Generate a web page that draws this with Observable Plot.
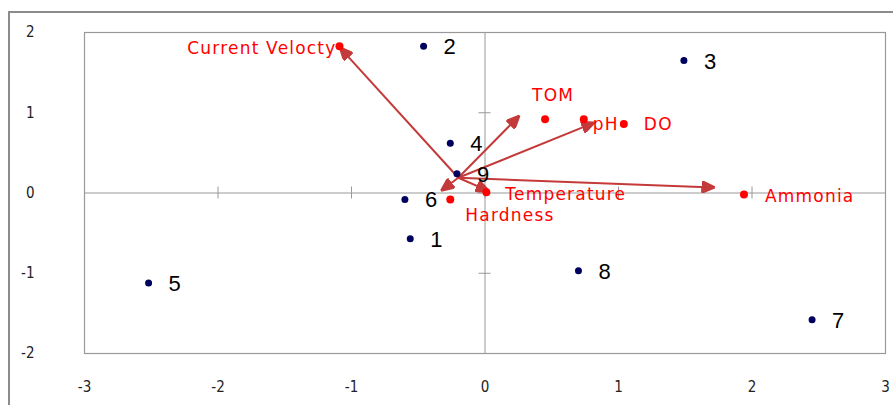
<!DOCTYPE html>
<html>
<head>
<meta charset="utf-8">
<script src="https://cdn.jsdelivr.net/npm/d3@7"></script>
<script src="https://cdn.jsdelivr.net/npm/@observablehq/plot@0.6"></script>
<style>
  html, body { margin: 0; padding: 0; background: #fff; }
  #wrap { position: relative; width: 893px; height: 405px; overflow: hidden; }
  #outer { position: absolute; left: 8px; top: 11px; width: 2000px; height: 2000px;
           border-left: 2px solid #8c8c8c; border-top: 2px solid #8c8c8c; pointer-events: none; }
</style>
</head>
<body>
<div id="wrap"><div id="outer"></div></div>
<script>
// Sites (navy points)
const sites = ["1", "2", "3", "4", "5", "6", "7", "8", "9"];
const siteX = [-0.56, -0.46, 1.49, -0.26, -2.52, -0.60, 2.45, 0.70, -0.21];
const siteY = [-0.57, 1.83, 1.65, 0.62, -1.12, -0.08, -1.58, -0.97, 0.24];

// Environmental variables (red points)
const vars = ["Current Velocty", "TOM", "pH", "DO", "Temperature", "Hardness", "Ammonia"];
const varX = [-1.09, 0.45, 0.74, 1.04, 0.01, -0.26, 1.94];
const varY = [1.83, 0.92, 0.92, 0.86, 0.01, -0.08, -0.02];

// Arrows (from a common origin to tips)
const arrowVars = ["Current Velocty", "TOM", "pH", "Temperature", "Hardness", "Ammonia"];
const arrowOrigin = [-0.2, 0.19];
const tipX = [-1.08, 0.25, 0.81, 0.02, -0.32, 1.71];
const tipY = [1.80, 0.95, 0.87, 0.03, 0.04, 0.07];

// Axis ticks
const xTicks = [-3, -2, -1, 0, 1, 2, 3];
const yTicks = [-2, -1, 0, 1, 2];

const siteData = sites.map((s, i) => ({label: s, x: siteX[i], y: siteY[i]}));
const varData = vars.map((v, i) => ({label: v, x: varX[i], y: varY[i]}));
const arrowData = arrowVars.map((v, i) => ({label: v, x1: arrowOrigin[0], y1: arrowOrigin[1], x2: tipX[i], y2: tipY[i]}));

const arrowColor = "#c43a3a";
const filledHead = (color, context) =>
  d3.create("svg:marker")
    .attr("viewBox", "0 -5 10 10")
    .attr("refX", 9)
    .attr("refY", 0)
    .attr("markerWidth", 7)
    .attr("markerHeight", 6)
    .attr("orient", "auto")
    .attr("fill", color)
    .call(m => m.append("path").attr("d", "M0,-4.5L10,0L0,4.5Z"))
    .node();

const redFont = "'DejaVu Sans', sans-serif";
const labelOpts = {
  "Current Velocty": {dx: -3, dy: 2, anchor: "end"},
  "TOM": {dx: 8, dy: -24, anchor: "middle"},
  "pH": {dx: 9, dy: 5, anchor: "start"},
  "DO": {dx: 20, dy: 1, anchor: "start"},
  "Temperature": {dx: 19, dy: 2, anchor: "start"},
  "Hardness": {dx: 15, dy: 16, anchor: "start"},
  "Ammonia": {dx: 21, dy: 2, anchor: "start"}
};
const varLabelMarks = vars.map(v => Plot.text(varData.filter(d => d.label === v), {
  x: "x", y: "y", text: "label",
  dx: labelOpts[v].dx, dy: labelOpts[v].dy, textAnchor: labelOpts[v].anchor,
  fill: "#ff0000", fontSize: 17, fontFamily: redFont
}));

const chart = Plot.plot({
  width: 893,
  height: 405,
  marginLeft: 84,
  marginRight: 8,
  marginTop: 32,
  marginBottom: 52,
  style: {background: "transparent", fontFamily: "'DejaVu Sans Condensed', 'Liberation Sans', sans-serif", fontSize: "15px", color: "#222"},
  x: {domain: [-3, 3], ticks: xTicks, tickSize: 0, tickPadding: 28, tickFormat: d => String(d), label: null},
  y: {domain: [-2, 2], ticks: yTicks, tickSize: 0, tickPadding: 50, tickFormat: d => String(d), label: null},
  marks: [
    Plot.frame({stroke: "#999", strokeWidth: 1.2}),
    Plot.ruleX([0], {stroke: "#999", strokeWidth: 1}),
    Plot.ruleY([0], {stroke: "#999", strokeWidth: 1}),
    Plot.ruleX(xTicks, {x: d => d, y1: 0, y2: 0, insetTop: -6, insetBottom: -6, stroke: "#999"}),
    Plot.ruleY(yTicks, {y: d => d, x1: 0, x2: 0, insetLeft: -6, insetRight: -6, stroke: "#999"}),
    Plot.link(arrowData, {x1: "x1", y1: "y1", x2: "x2", y2: "y2", stroke: arrowColor, strokeWidth: 2, markerEnd: filledHead}),
    Plot.dot(siteData, {x: "x", y: "y", r: 3.5, fill: "#00005e", stroke: null}),
    Plot.text(siteData, {x: "x", y: "y", text: "label", dx: 20, dy: 1, textAnchor: "start", fill: "#000", fontSize: 22, fontFamily: "'Liberation Sans', Arial, sans-serif"}),
    Plot.dot(varData, {x: "x", y: "y", r: 4, fill: "#ff0000", stroke: null}),
    ...varLabelMarks
  ]
});
document.getElementById("wrap").appendChild(chart);
chart.style.position = "relative";
d3.select(chart).selectAll("text").filter(function () {
  return this.getAttribute("fill") === "#ff0000" || (this.parentNode && this.parentNode.getAttribute("fill") === "#ff0000");
}).style("letter-spacing", "1.2px");
</script>
</body>
</html>
